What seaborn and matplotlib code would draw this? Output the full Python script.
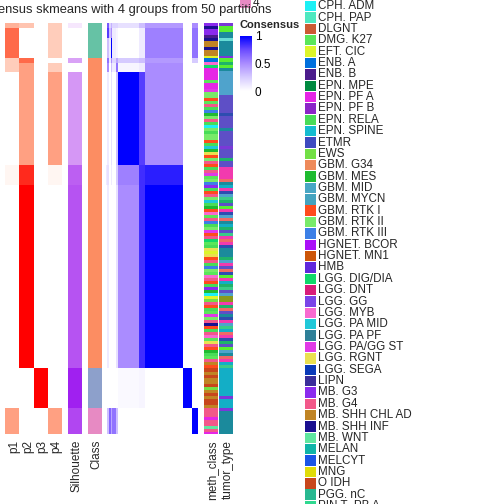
import string
import numpy as np
import pandas as pd
import seaborn as sns
import matplotlib.pyplot as plt
from matplotlib.colors import ListedColormap, LinearSegmentedColormap
from matplotlib.patches import Rectangle

sns.set_theme(style="white")
plt.rcParams['font.family'] = ['Liberation Sans', 'DejaVu Sans']

# row blocks of samples (top to bottom) and the class of each block
row_size = [5, 10, 20, 5, 9, 93, 20, 183, 40, 26]
row_class = [1, 1, 1, 2, 2, 2, 2, 2, 3, 4]

# membership probabilities and silhouette per row block
p1 = [0.4, 0.75, 0.75, 0.25, 0.25, 0.0, 0.05, 0.0, 0.0, 0.5]
p2 = [0.3, 0.0, 0.0, 0.75, 0.5, 0.5, 0.9, 1.0, 0.0, 0.0]
p3 = [0.0, 0.0, 0.0, 0.0, 0.0, 0.0, 0.0, 0.0, 1.0, 0.0]
p4 = [0.25, 0.25, 0.25, 0.0, 0.25, 0.5, 0.05, 0.0, 0.0, 0.5]
silhouette = [0.12, 0.0, 0.0, 0.45, 0.0, 0.5, 0.75, 0.8, 1.0, 0.85]

# column blocks of the consensus matrix (left to right)
col_size = [1, 2, 2, 1, 4, 2, 21, 6, 38, 9, 6]
consensus = [
    [0.0, 0.7, 0.2, 0.35, 0.2, 0.2, 0.15, 0.3, 0.45, 0.0, 0.5],
    [0.0, 0.8, 0.3, 0.5, 0.1, 0.05, 0.0, 0.1, 0.55, 0.0, 0.6],
    [0.0, 0.3, 0.1, 1.0, 0.1, 0.05, 0.0, 0.1, 0.55, 0.0, 0.6],
    [0.0, 0.6, 0.1, 0.5, 0.2, 0.4, 0.25, 0.3, 0.45, 0.0, 0.25],
    [0.0, 0.5, 0.0, 0.3, 0.1, 0.6, 0.05, 0.1, 0.5, 0.0, 0.0],
    [0.0, 0.1, 0.0, 0.15, 0.0, 0.3, 1.0, 0.8, 0.5, 0.0, 0.0],
    [0.1, 0.15, 0.0, 0.1, 0.0, 0.25, 0.55, 0.85, 0.9, 0.0, 0.0],
    [0.0, 0.1, 0.0, 0.0, 0.0, 0.15, 0.5, 0.85, 1.0, 0.0, 0.0],
    [0.0, 0.0, 0.0, 0.0, 0.0, 0.0, 0.03, 0.05, 0.0, 1.0, 0.0],
    [0.0, 0.3, 0.65, 0.4, 0.6, 0.3, 0.0, 0.0, 0.0, 0.0, 1.0],
]

class_colors = ["#66C2A5", "#FC8D62", "#8DA0CB", "#E78AC3"]

# meth_class legend (one letter code per entry: A-Z then a-s)
meth_names = ["CPH. ADM", "CPH. PAP", "DLGNT", "DMG. K27", "EFT. CIC", "ENB. A", "ENB. B",
              "EPN. MPE", "EPN. PF A", "EPN. PF B", "EPN. RELA", "EPN. SPINE", "ETMR", "EWS",
              "GBM. G34", "GBM. MES", "GBM. MID", "GBM. MYCN", "GBM. RTK I", "GBM. RTK II",
              "GBM. RTK III", "HGNET. BCOR", "HGNET. MN1", "HMB", "LGG. DIG/DIA", "LGG. DNT",
              "LGG. GG", "LGG. MYB", "LGG. PA MID", "LGG. PA PF", "LGG. PA/GG ST", "LGG. RGNT",
              "LGG. SEGA", "LIPN", "MB. G3", "MB. G4", "MB. SHH CHL AD", "MB. SHH INF",
              "MB. WNT", "MELAN", "MELCYT", "MNG", "O IDH", "PGG. nC", "PIN T  PB A"]
meth_colors = ["#1CF0F5", "#4EE8C0", "#CC5A33", "#5AE65A", "#DDF52A", "#0070DD", "#4B1C8C",
               "#008A40", "#E526E5", "#8B25C8", "#48DC58", "#15BCD0", "#3D4ABF", "#72DF45",
               "#EE8A5A", "#1EBB30", "#48A6C4", "#44A3BF", "#FF4B1C", "#78EA69",
               "#3C7FE6", "#AA10F8", "#CC5508", "#6028DC", "#10D86A", "#D81C7A",
               "#7A44E8", "#F86AD0", "#20C8D8", "#2E8098", "#E03AE6", "#EAE050",
               "#0A3AB8", "#3A2E9A", "#8A2BEE", "#F2588A", "#C08424", "#1A1090",
               "#60E6A0", "#10B4A8", "#1A55E6", "#E0DC08", "#C8461C", "#28B890", "#30D890"]
meth_keys = string.ascii_uppercase + string.ascii_lowercase[:19]

# meth_class stripes per class, top to bottom
meth_c1 = "iliiGlkklkkE"
meth_c2 = ("FbYIIIIDIIeTTSDjKUPTjKATKTTSKcPfSTj" "SKjeDTUiKS" "jTcKPSbDjU" "KTeSjYDK"
           "fEf" "SjKUTDbjSKiP" "A" "EN" "jSKDeTj" "l" "SKjbD" "f" "jS" "PKD" "j" "k" "S")
meth_c3 = "qkqkkqNkqkqqk"
meth_c4 = "jjjIjjmjI"

# tumor_type stripes per class, top to bottom
tumor_palette = {"a": "#1B8A9C", "b": "#58EE32", "c": "#66DCD4", "d": "#4FA3CC",
                 "e": "#5E4FC6", "f": "#F23AAE", "g": "#13AEC6", "h": "#7B38D8",
                 "i": "#EE6A66", "j": "#1FB36A", "k": "#2E4DB0", "l": "#8A9A1C", "m": "#3ACB88"}
tumor_c1 = "hbbaacaaaaah"
tumor_c2 = ("bjba" "dddddddd" "eeeeeekeeeeaeeeeeheee" "jeeffff" "iagfkdmjeb" "fkdiagjemf"
            "ifk" "aaa" "jdfeikbfgjme" "dll" "fjieakfdmg" "ifkjebdaifgm")
tumor_c3 = "ggggggggghggg"
tumor_c4 = "haaaaaaaa"

# ---- build tables ----
rows = np.repeat(np.arange(len(row_size)), row_size)
cols = np.repeat(np.arange(len(col_size)), col_size)
memb = pd.DataFrame({"p1": np.array(p1)[rows], "p2": np.array(p2)[rows],
                     "p3": np.array(p3)[rows], "p4": np.array(p4)[rows]})
sil = pd.DataFrame({"Silhouette": np.array(silhouette)[rows]})
cls = pd.DataFrame({"Class": np.array(row_class)[rows]})
cons = pd.DataFrame(np.array(consensus)[np.ix_(rows, cols)])

class_h = [sum(s for s, c in zip(row_size, row_class) if c == k) for k in [1, 2, 3, 4]]


def expand(strips, h):
    strips = np.array(list(strips))
    return strips[(np.arange(h) * len(strips)) // h]


meth_rows = np.concatenate([expand(s, h) for s, h in zip([meth_c1, meth_c2, meth_c3, meth_c4], class_h)])
tumor_rows = np.concatenate([expand(s, h) for s, h in zip([tumor_c1, tumor_c2, tumor_c3, tumor_c4], class_h)])
tumor_keys = list(tumor_palette.keys())
meth_df = pd.DataFrame({"meth_class": [meth_keys.index(c) for c in meth_rows]})
tumor_df = pd.DataFrame({"tumor_type": [tumor_keys.index(c) for c in tumor_rows]})

memb_cmap = LinearSegmentedColormap.from_list("memb", ["#FFFFFF", "#FFCDBB", "#FFA082", "#FF6B4B", "#FF0000"])
sil_cmap = LinearSegmentedColormap.from_list("sil", ["#FFFFFF", "#EBCDFA", "#D597F5", "#BC60F2", "#A020F0"])
cons_cmap = LinearSegmentedColormap.from_list("cons", ["#FFFFFF", "#D6CBFF", "#AB8DFF", "#6B4CFF", "#0000FF"])

# ---- figure ----
W = 504
fig = plt.figure(figsize=(5.04, 5.04), dpi=100)


def px_axes(x0, x1, y0, y1):
    return fig.add_axes([x0 / W, 1 - y1 / W, (x1 - x0) / W, (y1 - y0) / W])


top, bottom = 23, 434
hm = dict(cbar=False, xticklabels=False, yticklabels=False)
sns.heatmap(memb, ax=px_axes(5, 62, top, bottom), cmap=memb_cmap, vmin=0, vmax=1, **hm)
sns.heatmap(sil, ax=px_axes(68, 82, top, bottom), cmap=sil_cmap, vmin=0, vmax=1, **hm)
sns.heatmap(cls, ax=px_axes(88, 102, top, bottom), cmap=ListedColormap(class_colors), vmin=0.5, vmax=4.5, **hm)
sns.heatmap(cons, ax=px_axes(106, 198, top, bottom), cmap=cons_cmap, vmin=0, vmax=1, **hm)
sns.heatmap(meth_df, ax=px_axes(204, 218, top, bottom), cmap=ListedColormap(meth_colors),
            vmin=-0.5, vmax=len(meth_colors) - 0.5, **hm)
sns.heatmap(tumor_df, ax=px_axes(219, 233, top, bottom), cmap=ListedColormap(list(tumor_palette.values())),
            vmin=-0.5, vmax=len(tumor_palette) - 0.5, **hm)

# consensus colour bar
cax = px_axes(240, 252, 36, 91)
sm = plt.cm.ScalarMappable(cmap=cons_cmap, norm=plt.Normalize(0, 1))
cb = fig.colorbar(sm, cax=cax, ticks=[0, 0.5, 1])
cb.outline.set_visible(False)
cb.ax.set_yticklabels(["0", "0.5", "1"])
cb.ax.tick_params(left=True, right=True, labelleft=False, labelright=True, direction="in",
                  colors="white", labelcolor="black", length=3, width=0.8, labelsize=8.5, pad=2)

# texts and legends on an overlay in pixel units
ov = fig.add_axes([0, 0, 1, 1])
ov.set_xlim(0, W)
ov.set_ylim(W, 0)
ov.axis("off")

ov.text(120, 10, "Consensus skmeans with 4 groups from 50 partitions", ha="center", va="center", fontsize=9.3)
ov.text(240, 25, "Consensus", ha="left", va="center", fontsize=8, fontweight="bold")
ov.add_patch(Rectangle((240, -2), 11, 10, color=class_colors[3], lw=0))
ov.text(253, 3, "4", ha="left", va="center", fontsize=8.5)

for name, x in [("p1", 14), ("p2", 28.5), ("p3", 42.5), ("p4", 56.5), ("Silhouette", 76.5),
                ("Class", 96.5), ("meth_class", 212.5), ("tumor_type", 227.5)]:
    ov.text(x, 440, name, rotation=90, ha="center", va="top", fontsize=8.5)

for i, (name, color) in enumerate(zip(meth_names, meth_colors)):
    yc = 6.2 + i * 11.36
    ov.add_patch(Rectangle((305, yc - 5.2), 11, 10.4, color=color, lw=0))
    ov.text(318, yc, name, ha="left", va="center", fontsize=8.4)

fig.savefig("out.png", dpi=100)
